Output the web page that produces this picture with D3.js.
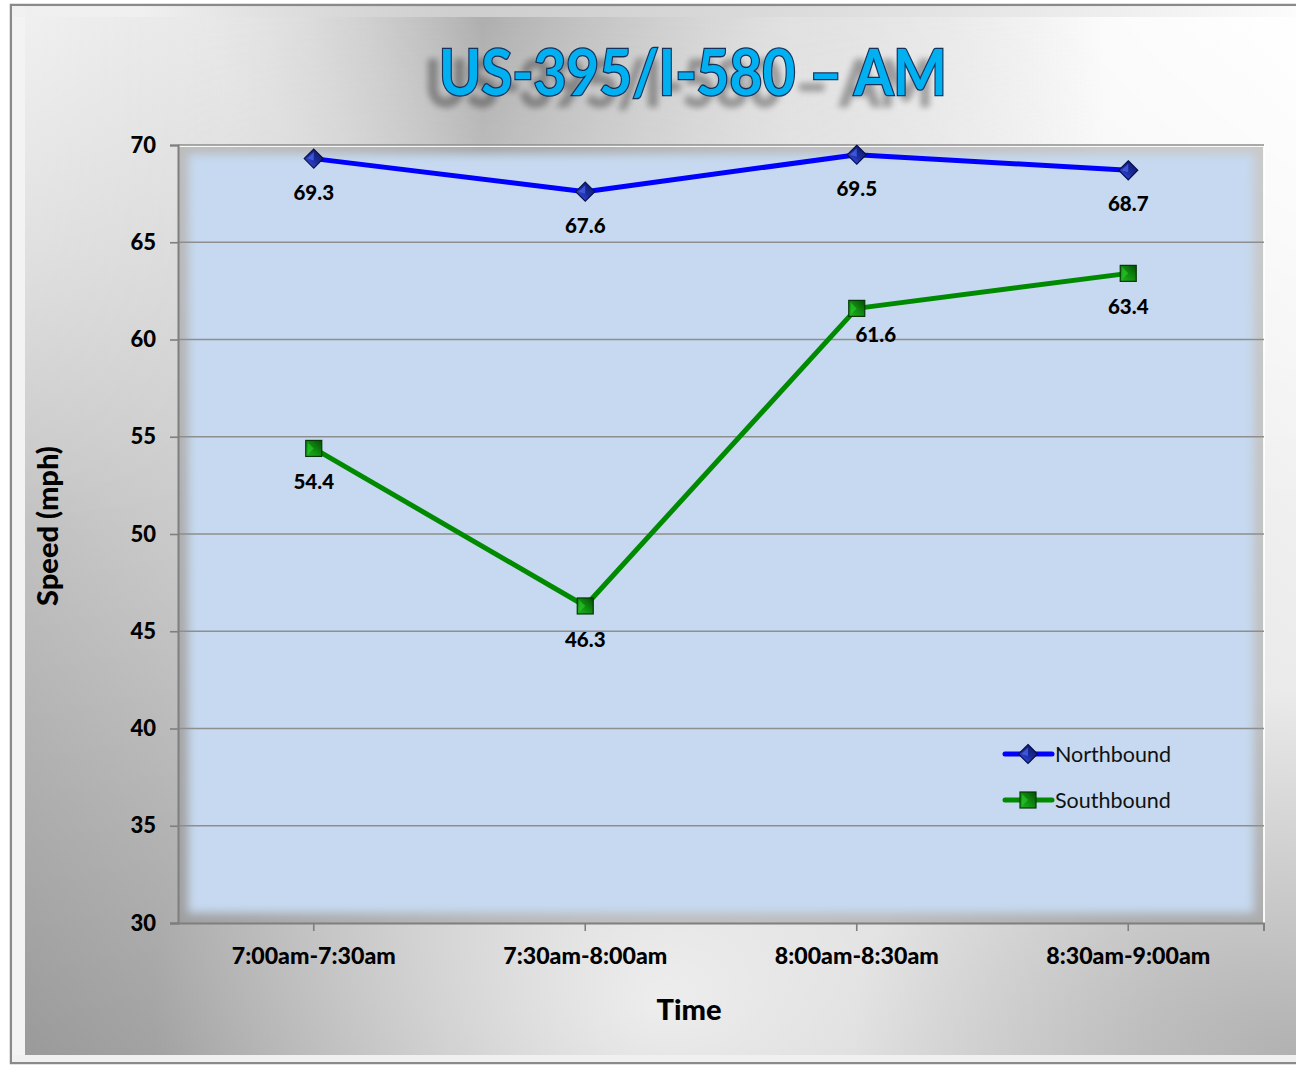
<!DOCTYPE html>
<html>
<head>
<meta charset="utf-8">
<script src="https://cdn.jsdelivr.net/npm/d3@7"></script>
<style>
  html, body { margin: 0; padding: 0; background: #ffffff; }
  svg { display: block; }
</style>
</head>
<body>
<svg id="chart" width="1296" height="1065"></svg>
<script>
// Average speeds by half-hour window, morning peak
const categories = ["7:00am-7:30am", "7:30am-8:00am", "8:00am-8:30am", "8:30am-9:00am"];
const northbound = [69.3, 67.6, 69.5, 68.7];
const southbound = [54.4, 46.3, 61.6, 63.4];
const yTicks = [30, 35, 40, 45, 50, 55, 60, 65, 70];
const seriesNames = ["Northbound", "Southbound"];
const titleText = "US-395/I-580 \u2013 AM";

const W = 1296, H = 1065;
const font = "Lato, 'Open Sans', 'DejaVu Sans', sans-serif";
const svg = d3.select("#chart");
const defs = svg.append("defs");

function linGrad(id, x1, y1, x2, y2, stops) {
  const g = defs.append("linearGradient").attr("id", id)
    .attr("x1", x1).attr("y1", y1).attr("x2", x2).attr("y2", y2);
  stops.forEach(([o, c, a]) => g.append("stop").attr("offset", o)
    .attr("stop-color", c).attr("stop-opacity", a == null ? 1 : a));
  return g;
}

// ---- gradients & filters ----
linGrad("bgGrad", 0, 1, 1, 0, [
  [0, "#9a9a9a"], [0.3, "#c8c8c8"], [0.55, "#e4e4e4"], [1, "#fcfcfc"]
]);
// darker band across the top, strongest left of centre
linGrad("topBand", 0, 0, 1, 0, [
  [0, "#ffffff", 0.55], [0.12, "#ffffff", 0.2], [0.36, "#7a7a7a", 0.55],
  [0.6, "#b0b0b0", 0.25], [0.85, "#ffffff", 0.5], [1, "#ffffff", 0.7]
]);
linGrad("topFade", 0, 0, 0, 1, [
  [0, "#ffffff", 1], [0.25, "#ffffff", 0.55], [0.5, "#ffffff", 0]
]);
const topMask = defs.append("mask").attr("id", "topMask");
topMask.append("rect").attr("x", 0).attr("y", 0).attr("width", W).attr("height", H).attr("fill", "url(#topFade)");

const hiGrad = defs.append("radialGradient").attr("id", "hiGrad")
  .attr("cx", "0.5").attr("cy", "0.95").attr("r", "0.4");
hiGrad.append("stop").attr("offset", "0").attr("stop-color", "#ffffff").attr("stop-opacity", 0.7);
hiGrad.append("stop").attr("offset", "1").attr("stop-color", "#ffffff").attr("stop-opacity", 0);

const brGrad = defs.append("radialGradient").attr("id", "brGrad")
  .attr("cx", "1").attr("cy", "1").attr("r", "0.35");
brGrad.append("stop").attr("offset", "0").attr("stop-color", "#8c8c8c").attr("stop-opacity", 0.55);
brGrad.append("stop").attr("offset", "1").attr("stop-color", "#8c8c8c").attr("stop-opacity", 0);

linGrad("topEdge", 0, 0, 1, 0, [
  [0, "#f0f0f0", 0.9], [0.1, "#f2f2f2", 0.8], [0.35, "#bdbdbd", 0.6], [1, "#ffffff", 0.9]
]);

const softBlur = defs.append("filter").attr("id", "softBlur")
  .attr("x", "-5%").attr("y", "-5%").attr("width", "110%").attr("height", "110%");
softBlur.append("feGaussianBlur").attr("stdDeviation", 5);

// soft dark shadow cast beneath the title lettering
const titleShadow = defs.append("filter").attr("id", "titleShadow")
  .attr("x", "-10%").attr("y", "-30%").attr("width", "120%").attr("height", "180%");
titleShadow.append("feGaussianBlur").attr("in", "SourceAlpha").attr("stdDeviation", 3).attr("result", "b");
titleShadow.append("feOffset").attr("in", "b").attr("dx", -14).attr("dy", 11).attr("result", "o");
titleShadow.append("feComponentTransfer").attr("in", "o").attr("result", "s")
  .append("feFuncA").attr("type", "linear").attr("slope", 0.33);
const tm = titleShadow.append("feMerge");
tm.append("feMergeNode").attr("in", "s");
tm.append("feMergeNode").attr("in", "SourceGraphic");

linGrad("diamondGrad", 0, 1, 1, 0, [[0, "#3b5bff"], [0.5, "#1a2a9a"], [1, "#0c145c"]]);
linGrad("squareGrad", 0, 1, 1, 0, [[0, "#22b422"], [0.5, "#0f8a0f"], [1, "#064a06"]]);

// ---- outer frame and background ----
svg.append("rect").attr("x", 0).attr("y", 0).attr("width", W).attr("height", H).attr("fill", "#ffffff");
svg.append("rect").attr("x", 11).attr("y", 5).attr("width", W).attr("height", 1058)
  .attr("fill", "#e8e8e8").attr("stroke", "#8a8a8a").attr("stroke-width", 2.5);
const inner = { x: 25, y: 17, w: W - 25, h: 1038 };
["url(#bgGrad)", "url(#hiGrad)", "url(#brGrad)"].forEach(f =>
  svg.append("rect").attr("x", inner.x).attr("y", inner.y).attr("width", inner.w).attr("height", inner.h).attr("fill", f));
svg.append("rect").attr("x", inner.x).attr("y", inner.y).attr("width", inner.w).attr("height", inner.h)
  .attr("fill", "url(#topBand)").attr("mask", "url(#topMask)");
// bevel edges
svg.append("rect").attr("x", 12).attr("y", 6).attr("width", 13).attr("height", 1056).attr("fill", "#f4f4f4").attr("opacity", 0.85);
svg.append("rect").attr("x", 12).attr("y", 6).attr("width", W).attr("height", 11).attr("fill", "url(#topEdge)");
svg.append("rect").attr("x", 12).attr("y", 1055).attr("width", W).attr("height", 7).attr("fill", "#f0f0f0");

// ---- plot area ----
const plot = { left: 178, right: 1264, top: 145, bottom: 923 };
const x = d3.scaleBand().domain(categories).range([plot.left, plot.right]).padding(0);
const y = d3.scaleLinear().domain([30, 70]).range([plot.bottom, plot.top]);
const cx = d => x(d) + x.bandwidth() / 2;

svg.append("rect").attr("x", plot.left).attr("y", plot.top)
  .attr("width", plot.right - plot.left).attr("height", plot.bottom - plot.top)
  .attr("fill", "#8c8c8c").attr("opacity", 0.45);
svg.append("rect").attr("x", plot.left + 10).attr("y", plot.top + 9)
  .attr("width", plot.right - plot.left - 20).attr("height", plot.bottom - plot.top - 19)
  .attr("fill", "#c6d9f0").attr("filter", "url(#softBlur)");
svg.append("path")
  .attr("d", `M${plot.left},${plot.top + 1}H${plot.right}V${plot.bottom}`)
  .attr("fill", "none").attr("stroke", "#ffffff").attr("stroke-width", 2).attr("opacity", 0.9);

// gridlines
svg.append("g").selectAll("line").data(yTicks.filter(t => t > 30)).join("line")
  .attr("x1", plot.left).attr("x2", plot.right)
  .attr("y1", d => y(d)).attr("y2", d => y(d))
  .attr("stroke", "#8e8e8e").attr("stroke-width", 1.6);

// y axis
const yAxis = svg.append("g").attr("transform", `translate(${plot.left},0)`)
  .call(d3.axisLeft(y).tickValues(yTicks).tickSize(8).tickPadding(14));
yAxis.select(".domain").attr("stroke", "#7f7f7f").attr("stroke-width", 2);
yAxis.selectAll(".tick line").attr("stroke", "#7f7f7f").attr("stroke-width", 1.6);
yAxis.selectAll(".tick text").attr("font-family", font).attr("font-weight", "900")
  .attr("font-size", 22).attr("fill", "#000000");

// x axis
const xAxis = svg.append("g").attr("transform", `translate(0,${plot.bottom})`)
  .call(d3.axisBottom(x).tickSize(8).tickPadding(17).tickSizeOuter(0));
xAxis.select(".domain").attr("stroke", "#7f7f7f").attr("stroke-width", 2)
  .attr("d", `M${plot.left - 8},0.5H${plot.right}V8`);
xAxis.selectAll(".tick line").attr("stroke", "#7f7f7f").attr("stroke-width", 1.6);
xAxis.selectAll(".tick text").attr("font-family", font).attr("font-weight", "900")
  .attr("font-size", 22).attr("fill", "#000000")
  .attr("textLength", 164).attr("lengthAdjust", "spacingAndGlyphs");

// axis titles
svg.append("text").attr("transform", `translate(46,${(plot.top + plot.bottom) / 2 - 8}) rotate(-90)`)
  .attr("text-anchor", "middle").attr("dominant-baseline", "central")
  .attr("font-family", font).attr("font-weight", "900").attr("font-size", 29)
  .text("Speed (mph)");
svg.append("text").attr("x", 689).attr("y", 1020)
  .attr("text-anchor", "middle")
  .attr("font-family", font).attr("font-weight", "900").attr("font-size", 29)
  .text("Time");

// ---- series ----
const series = [
  { name: seriesNames[0], values: northbound, color: "#0000ff", marker: "diamond" },
  { name: seriesNames[1], values: southbound, color: "#008a00", marker: "square" }
];
const line = d3.line().x(d => cx(d.cat)).y(d => y(d.v));

function drawMarker(g, type, px, py) {
  if (type === "diamond") {
    const s = 9.5;
    g.append("path")
      .attr("d", `M${px},${py - s}L${px + s},${py}L${px},${py + s}L${px - s},${py}Z`)
      .attr("fill", "url(#diamondGrad)").attr("stroke", "#0a0f4a").attr("stroke-width", 1.2);
    g.append("path")
      .attr("d", `M${px},${py - s + 3}L${px - s + 3},${py}L${px},${py + 2}Z`)
      .attr("fill", "#5a78ff").attr("opacity", 0.55);
  } else {
    const s = 8;
    g.append("rect").attr("x", px - s).attr("y", py - s).attr("width", 2 * s).attr("height", 2 * s)
      .attr("fill", "url(#squareGrad)").attr("stroke", "#053805").attr("stroke-width", 1.2);
    g.append("path")
      .attr("d", `M${px - s + 2},${py - s + 2}L${px},${py}L${px - s + 2},${py + s - 2}Z`)
      .attr("fill", "#2ccd2c").attr("opacity", 0.6);
  }
}

// hand-placed offsets for labels that would otherwise sit on a line
const labelNudge = { "Southbound-2": [19, -7] };

series.forEach(s => {
  const pts = s.values.map((v, i) => ({ cat: categories[i], v, i }));
  const g = svg.append("g");
  g.append("path").datum(pts).attr("d", line)
    .attr("fill", "none").attr("stroke", s.color).attr("stroke-width", 5)
    .attr("stroke-linejoin", "round");
  pts.forEach(p => drawMarker(g, s.marker, cx(p.cat), y(p.v)));
  g.selectAll("text.lbl").data(pts).join("text").attr("class", "lbl")
    .attr("x", p => cx(p.cat) + ((labelNudge[`${s.name}-${p.i}`] || [0, 0])[0]))
    .attr("y", p => y(p.v) + 41 + ((labelNudge[`${s.name}-${p.i}`] || [0, 0])[1]))
    .attr("text-anchor", "middle")
    .attr("font-family", font).attr("font-weight", "900").attr("font-size", 20.5)
    .attr("fill", "#000000")
    .text(p => p.v.toFixed(1));
});

// ---- legend ----
const legend = svg.append("g");
series.forEach((s, i) => {
  const ly = 754 + i * 46;
  legend.append("line").attr("x1", 1005).attr("x2", 1052).attr("y1", ly).attr("y2", ly)
    .attr("stroke", s.color).attr("stroke-width", 5).attr("stroke-linecap", "round");
  drawMarker(legend, s.marker, 1028, ly);
  legend.append("text").attr("x", 1055).attr("y", ly).attr("dominant-baseline", "central")
    .attr("font-family", font).attr("font-size", 21.5).attr("fill", "#111111")
    .text(s.name);
});

// ---- title ----
svg.append("text")
  .attr("x", 693).attr("y", 95)
  .attr("text-anchor", "middle")
  .attr("font-family", font).attr("font-weight", "bold").attr("font-size", 64)
  .attr("textLength", 508).attr("lengthAdjust", "spacingAndGlyphs")
  .attr("fill", "#00b0f0").attr("stroke", "#14305a").attr("stroke-width", 2.6)
  .attr("paint-order", "stroke")
  .attr("filter", "url(#titleShadow)")
  .text(titleText);
</script>
</body>
</html>
